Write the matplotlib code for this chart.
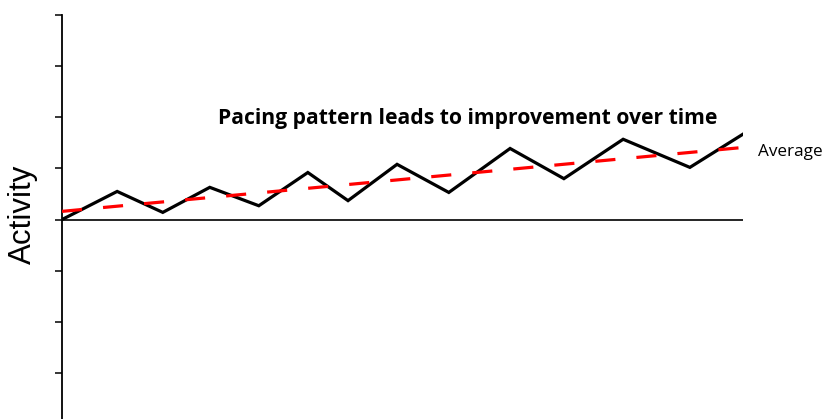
import matplotlib.pyplot as plt

# zigzag activity (time in % of span, activity in tick units)
time = [0, 8.1, 14.8, 21.7, 28.9, 36.1, 42.0, 49.2, 56.8, 65.8, 73.7, 82.4, 92.2, 100]
activity = [0, 0.55, 0.14, 0.63, 0.27, 0.92, 0.37, 1.08, 0.53, 1.39, 0.80, 1.57, 1.02, 1.67]

avg_time = [0, 100]
avg_value = [0.16, 1.41]

fig = plt.figure(figsize=(8.29, 4.19), dpi=100)
ax = fig.add_axes([62 / 829, 0, 681 / 829, 1 - 15 / 419])

ax.plot(time, activity, color='black', lw=2.3, solid_joinstyle='miter', zorder=3)
ax.plot(avg_time, avg_value, color='#ff0000', lw=2.3, dashes=(6.3, 6.6), zorder=4)
ax.axhline(0, color='black', lw=1.2)

ax.set_xlim(0, 100)
ax.set_ylim(-3.9, 4)
ax.set_yticks(range(-3, 5))
ax.set_yticklabels([])
ax.set_xticks([])
ax.tick_params(axis='y', direction='out', length=5, width=1.1)
for s in ['top', 'right', 'bottom']:
    ax.spines[s].set_visible(False)
ax.spines['left'].set_linewidth(1.3)

ax.text(59.6, 1.97, 'Pacing pattern leads to improvement over time', ha='center', va='center',
        fontsize=15.2, fontweight='bold', family='Open Sans')
ax.text(102.2, 1.33, 'Average', ha='left', va='center', fontsize=12.3, family='Open Sans')
fig.text(23 / 829, 1 - 214 / 419, 'Activity', rotation=90, ha='center', va='center',
         fontsize=22.5, family='Liberation Sans')

fig.savefig('out.png', dpi=100)
